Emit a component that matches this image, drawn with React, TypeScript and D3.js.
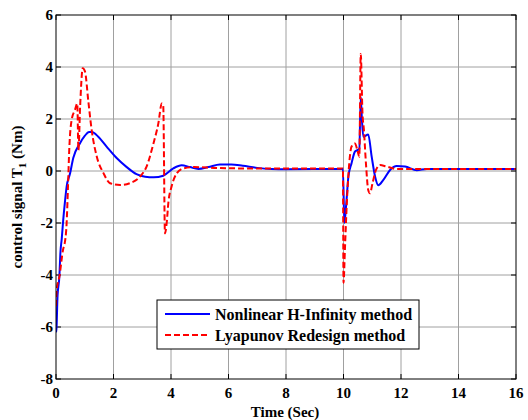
import React, { useRef, useEffect } from 'react';
import * as d3 from 'd3';

const width = 528;
const height = 420;
const margin = { top: 15, right: 12, bottom: 41, left: 56 };

const xTicks = [0, 2, 4, 6, 8, 10, 12, 14, 16];
const yTicks = [-8, -6, -4, -2, 0, 2, 4, 6];

// Nonlinear H-Infinity method
const hinfT = [0, 0.02, 0.05, 0.12, 0.15, 0.2, 0.25, 0.31, 0.37, 0.49, 0.6, 0.83, 1.0, 1.15, 1.25, 1.47, 1.76, 2.11, 2.46, 2.8, 3.1, 3.4, 3.73, 4.08, 4.37, 4.66, 4.95, 5.3, 5.7, 6.1, 6.5, 7.0, 7.5, 8.0, 9.98, 10.03, 10.1, 10.17, 10.28, 10.4, 10.55, 10.6, 10.64, 10.69, 10.86, 10.98, 11.1, 11.21, 11.38, 11.62, 11.85, 12.14, 12.55, 12.9, 16];
const hinfV = [-6.2, -6.0, -4.9, -4.0, -3.2, -2.6, -1.9, -1.2, -0.6, -0.09, 0.5, 1.06, 1.35, 1.5, 1.5, 1.32, 0.94, 0.5, 0.15, -0.12, -0.22, -0.24, -0.18, 0.1, 0.22, 0.15, 0.08, 0.15, 0.25, 0.25, 0.2, 0.12, 0.08, 0.07, 0.08, -2.0, -1.2, -0.22, 0.3, 0.75, 0.85, 2.85, 2.0, 1.32, 1.4, 0.55, -0.22, -0.55, -0.35, 0.04, 0.19, 0.17, 0.03, 0.08, 0.08];

// Lyapunov Redesign method
const lyapT = [0, 0.02, 0.12, 0.25, 0.3, 0.37, 0.42, 0.46, 0.55, 0.66, 0.74, 0.78, 0.84, 0.93, 1.01, 1.12, 1.24, 1.42, 1.65, 1.88, 2.23, 2.57, 2.92, 3.15, 3.39, 3.56, 3.68, 3.73, 3.79, 3.85, 3.91, 4.02, 4.2, 4.43, 4.8, 5.5, 6.5, 9.98, 10.0, 10.05, 10.11, 10.2, 10.28, 10.4, 10.48, 10.55, 10.6, 10.66, 10.71, 10.78, 10.86, 10.92, 11.01, 11.13, 11.27, 11.5, 11.85, 16];
const lyapV = [-5.2, -4.6, -4.05, -3.0, -2.8, -2.0, -0.5, 0.8, 2.0, 2.35, 2.6, 0.8, 2.5, 3.95, 3.82, 2.73, 1.58, 0.55, -0.08, -0.47, -0.54, -0.47, -0.22, 0.17, 1.06, 1.83, 2.6, 2.5, -2.4, -2.0, -1.2, -0.6, -0.09, 0.1, 0.15, 0.12, 0.1, 0.1, -4.3, -3.0, -1.37, 0.3, 0.94, 1.06, 0.81, 0.55, 4.5, 2.22, 1.58, 0.3, -0.73, -0.86, -0.47, 0.04, 0.23, 0.17, 0.08, 0.08];

const seriesNames = ['Nonlinear H-Infinity method', 'Lyapunov Redesign method'];

export default function App() {
    const svgRef = useRef<SVGSVGElement>(null);

    useEffect(() => {
        const svg = d3.select(svgRef.current);
        svg.selectAll('*').remove();

        const iw = width - margin.left - margin.right;
        const ih = height - margin.top - margin.bottom;
        const x = d3.scaleLinear().domain([0, 16]).range([margin.left, margin.left + iw]);
        const y = d3.scaleLinear().domain([-8, 6]).range([margin.top + ih, margin.top]);
        const font = 'Liberation Serif, Times New Roman, serif';

        svg.append('rect').attr('width', width).attr('height', height).attr('fill', '#fff');

        // grid
        const grid = svg.append('g').attr('stroke', '#a0a0a0').attr('stroke-width', 1);
        xTicks.slice(1, -1).forEach(t => {
            grid.append('line').attr('x1', x(t)).attr('x2', x(t))
                .attr('y1', y(-8)).attr('y2', y(6));
        });
        yTicks.slice(1, -1).forEach(t => {
            grid.append('line').attr('x1', x(0)).attr('x2', x(16))
                .attr('y1', y(t)).attr('y2', y(t));
        });

        // inward ticks on all sides
        const tk = svg.append('g').attr('stroke', '#000').attr('stroke-width', 1);
        xTicks.forEach(t => {
            tk.append('line').attr('x1', x(t)).attr('x2', x(t)).attr('y1', y(-8)).attr('y2', y(-8) - 5);
            tk.append('line').attr('x1', x(t)).attr('x2', x(t)).attr('y1', y(6)).attr('y2', y(6) + 5);
        });
        yTicks.forEach(t => {
            tk.append('line').attr('x1', x(0)).attr('x2', x(0) + 5).attr('y1', y(t)).attr('y2', y(t));
            tk.append('line').attr('x1', x(16)).attr('x2', x(16) - 5).attr('y1', y(t)).attr('y2', y(t));
        });

        svg.append('clipPath').attr('id', 'plotclip')
            .append('rect').attr('x', x(0)).attr('y', y(6)).attr('width', iw).attr('height', ih);

        const line = d3.line<[number, number]>()
            .x(d => x(d[0]))
            .y(d => y(d[1]))
            .curve(d3.curveMonotoneX);

        const plot = svg.append('g').attr('clip-path', 'url(#plotclip)');
        plot.append('path')
            .attr('d', line(hinfT.map((t, i) => [t, hinfV[i]]))!)
            .attr('fill', 'none').attr('stroke', '#0000ff').attr('stroke-width', 2);
        plot.append('path')
            .attr('d', line(lyapT.map((t, i) => [t, lyapV[i]]))!)
            .attr('fill', 'none').attr('stroke', '#ff0000').attr('stroke-width', 2)
            .attr('stroke-dasharray', '6,3');

        // box
        svg.append('rect').attr('x', x(0)).attr('y', y(6)).attr('width', iw).attr('height', ih)
            .attr('fill', 'none').attr('stroke', '#000').attr('stroke-width', 1);

        // tick labels
        const lab = svg.append('g').attr('font-family', font).attr('font-weight', 'bold')
            .attr('font-size', 15).attr('fill', '#000');
        xTicks.forEach(t => {
            lab.append('text').attr('x', x(t)).attr('y', y(-8) + 19)
                .attr('text-anchor', 'middle').text(String(t));
        });
        yTicks.forEach(t => {
            lab.append('text').attr('x', x(0) - 3).attr('y', y(t) + 5)
                .attr('text-anchor', 'end').text(String(t));
        });

        // axis labels
        svg.append('text').attr('x', 285).attr('y', 417)
            .attr('text-anchor', 'middle').attr('font-family', font).attr('font-weight', 'bold')
            .attr('font-size', 15).text('Time (Sec)');

        const yl = svg.append('text')
            .attr('transform', `translate(22,${(y(6) + y(-8)) / 2}) rotate(-90)`)
            .attr('text-anchor', 'middle').attr('font-family', font).attr('font-weight', 'bold')
            .attr('font-size', 15);
        yl.append('tspan').text('control signal T');
        yl.append('tspan').attr('font-size', 11).attr('dy', 4).text('1');
        yl.append('tspan').attr('dy', -4).text(' (Nm)');

        // legend
        const lg = svg.append('g');
        lg.append('rect').attr('x', 157).attr('y', 300).attr('width', 262).attr('height', 49)
            .attr('fill', '#fff').attr('stroke', '#000').attr('stroke-width', 1);
        const rows = [
            { name: seriesNames[0], color: '#0000ff', dash: null },
            { name: seriesNames[1], color: '#ff0000', dash: '6,3' },
        ];
        rows.forEach((r, i) => {
            const ly = 314 + i * 21;
            lg.append('line').attr('x1', 165).attr('x2', 210).attr('y1', ly).attr('y2', ly)
                .attr('stroke', r.color).attr('stroke-width', 2)
                .attr('stroke-dasharray', r.dash);
            lg.append('text').attr('x', 215).attr('y', ly + 6)
                .attr('font-family', font).attr('font-weight', 'bold').attr('font-size', 16)
                .text(r.name);
        });
    }, []);

    return (
        <svg ref={svgRef} width={width} height={height}
            style={{ position: 'absolute', left: 0, top: 0 }} />
    );
}
